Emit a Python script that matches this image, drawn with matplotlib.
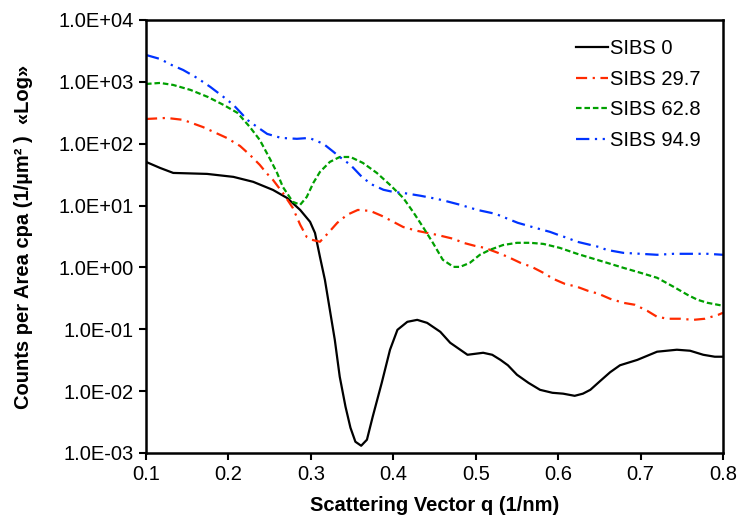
import matplotlib.pyplot as plt
from matplotlib.ticker import FuncFormatter, NullLocator

plt.rcParams['font.family'] = ['Liberation Sans', 'DejaVu Sans']

# SIBS 0
q0 = [0.1, 0.117, 0.133, 0.174, 0.206, 0.23, 0.254, 0.271, 0.287, 0.299, 0.305,
      0.311, 0.317, 0.323, 0.329, 0.335, 0.342, 0.348, 0.354, 0.361, 0.368, 0.375,
      0.386, 0.396, 0.405, 0.417, 0.429, 0.441, 0.457, 0.469, 0.49, 0.499, 0.509,
      0.52, 0.53, 0.539, 0.55, 0.564, 0.578, 0.593, 0.606, 0.62, 0.63, 0.639,
      0.651, 0.663, 0.675, 0.696, 0.72, 0.744, 0.76, 0.776, 0.79, 0.8]
c0 = [50.8, 40.6, 33.7, 32.5, 29.1, 24.2, 17.9, 13.3, 8.5, 5.46, 3.6,
      1.48, 0.63, 0.206, 0.0676, 0.0171, 0.0056, 0.00256, 0.00152, 0.00131, 0.00164, 0.00386,
      0.0137, 0.0467, 0.098, 0.132, 0.142, 0.127, 0.091, 0.0605, 0.0387, 0.0401, 0.0417,
      0.0387, 0.032, 0.0262, 0.0184, 0.0136, 0.0105, 0.0094, 0.0091, 0.0084, 0.0091, 0.0105,
      0.0146, 0.0202, 0.0262, 0.032, 0.0434, 0.0467, 0.045, 0.0387, 0.036, 0.036]

# SIBS 29.7
q1 = [0.1, 0.125, 0.145, 0.169, 0.198, 0.214, 0.226, 0.238, 0.246, 0.254, 0.266,
      0.278, 0.287, 0.295, 0.301, 0.311, 0.321, 0.332, 0.344, 0.357, 0.372, 0.386,
      0.4, 0.412, 0.429, 0.453, 0.473, 0.485, 0.499, 0.511, 0.527, 0.539, 0.554,
      0.568, 0.582, 0.594, 0.608, 0.623, 0.636, 0.649, 0.663, 0.679, 0.693, 0.708,
      0.72, 0.733, 0.748, 0.764, 0.778, 0.794, 0.8]
c1 = [251, 261, 243, 186, 124, 92, 66, 45.5, 33.7, 26, 16,
      9.2, 4.9, 3.1, 2.8, 2.6, 3.6, 5.26, 7.1, 8.5, 8.2, 6.82,
      5.46, 4.5, 3.9, 3.36, 2.9, 2.5, 2.23, 2.07, 1.72, 1.48, 1.19,
      1.02, 0.818, 0.654, 0.543, 0.486, 0.419, 0.375, 0.311, 0.268, 0.249, 0.199,
      0.159, 0.148, 0.148, 0.142, 0.148, 0.171, 0.185]

# SIBS 62.8
q2 = [0.1, 0.117, 0.133, 0.154, 0.175, 0.194, 0.211, 0.226, 0.238, 0.251, 0.259,
      0.266, 0.278, 0.287, 0.295, 0.303, 0.311, 0.323, 0.335, 0.348, 0.363, 0.38,
      0.396, 0.412, 0.424, 0.436, 0.448, 0.46, 0.473, 0.481, 0.493, 0.505, 0.517,
      0.533, 0.55, 0.566, 0.582, 0.602, 0.623, 0.639, 0.659, 0.679, 0.7, 0.72,
      0.74, 0.757, 0.769, 0.781, 0.8]
c2 = [925, 960, 891, 740, 570, 424, 315, 186, 115, 54.7, 33.7,
      20, 11.5, 10.3, 13.8, 23.3, 35, 50.8, 61, 61, 49, 33.7,
      21.6, 13.3, 7.9, 4.5, 2.5, 1.33, 1.02, 1.02, 1.19, 1.6, 1.92,
      2.3, 2.5, 2.5, 2.4, 2.07, 1.66, 1.43, 1.19, 0.986, 0.818, 0.68,
      0.486, 0.36, 0.3, 0.268, 0.24]

# SIBS 94.9
q3 = [0.1, 0.117, 0.131, 0.145, 0.162, 0.178, 0.194, 0.206, 0.214, 0.223, 0.235,
      0.247, 0.264, 0.283, 0.298, 0.315, 0.326, 0.335, 0.348, 0.363, 0.375, 0.388,
      0.4, 0.412, 0.433, 0.453, 0.463, 0.481, 0.502, 0.524, 0.539, 0.551, 0.572,
      0.59, 0.6, 0.611, 0.623, 0.649, 0.659, 0.679, 0.7, 0.72, 0.74, 0.76,
      0.781, 0.8]
c3 = [2720, 2344, 1875, 1556, 1156, 828, 570, 424, 327, 242, 186,
      144, 124, 120, 124, 100, 76.5, 61, 45.5, 28, 21.6, 18,
      16.6, 16, 14.4, 12.8, 11.9, 10.3, 8.5, 7.35, 6.1, 5.26, 4.37,
      3.76, 3.36, 3.0, 2.6, 2.15, 1.92, 1.72, 1.66, 1.6, 1.66, 1.66,
      1.66, 1.6]

fig = plt.figure(figsize=(7.39, 5.18), dpi=100)
ax = fig.add_axes([0.1976, 0.1255, 0.7808, 0.8359])

ax.plot(q0, c0, color='black', lw=1.6, label='SIBS 0')
ax.plot(q1, c1, color='#ff2a00', lw=1.6, ls=(0, (5, 2.5, 1, 2.5)), label='SIBS 29.7')
ax.plot(q2, c2, color='#00a000', lw=1.6, ls=(0, (2.5, 1.3)), label='SIBS 62.8')
ax.plot(q3, c3, color='#0033ff', lw=1.6, ls=(0, (6, 2.5, 1, 2.5, 1, 2.5)), label='SIBS 94.9')

ax.set_yscale('log')
ax.set_xlim(0.1, 0.8)
ax.set_ylim(1e-3, 1e4)
ax.set_xticks([0.1, 0.2, 0.3, 0.4, 0.5, 0.6, 0.7, 0.8])
ax.set_xticklabels(['0.1', '0.2', '0.3', '0.4', '0.5', '0.6', '0.7', '0.8'])
ax.set_yticks([10.0 ** k for k in range(-3, 5)])
ax.yaxis.set_minor_locator(NullLocator())
ax.yaxis.set_major_formatter(FuncFormatter(lambda v, p: f"{v:.1E}"))
ax.tick_params(axis='both', labelsize=14.5, width=1.5, length=5, direction='out', pad=4)

for s in ax.spines.values():
    s.set_linewidth(1.8)

ax.set_xlabel('Scattering Vector q (1/nm)', fontsize=14.5, fontweight='bold', labelpad=8)
ax.set_ylabel('Counts per Area cpa (1/µm² )  «Log»', fontsize=14.5, fontweight='bold', labelpad=18)

ax.legend(loc='upper right', frameon=False, fontsize=14.5, handlelength=1.6,
          handletextpad=0.1, labelspacing=0.58, borderaxespad=0.55,
          bbox_to_anchor=(0.995, 1.0))

fig.savefig('out.png', dpi=100)
